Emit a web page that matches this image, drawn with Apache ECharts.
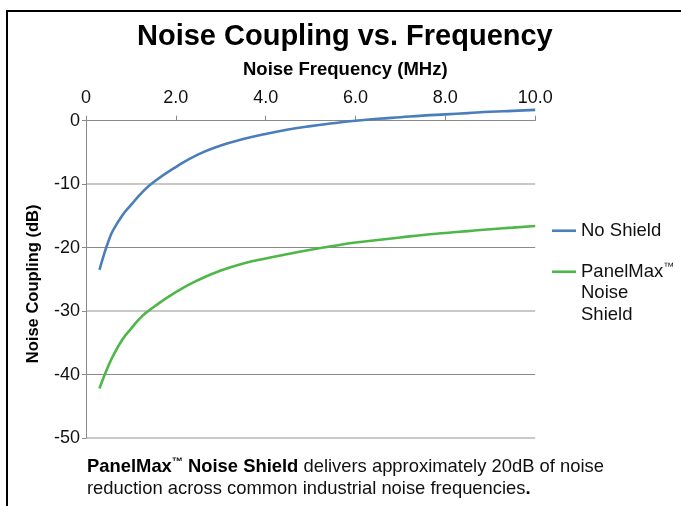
<!DOCTYPE html>
<html>
<head>
<meta charset="utf-8">
<script src="https://cdn.jsdelivr.net/npm/echarts@6/dist/echarts.min.js"></script>
<style>
html,body{margin:0;padding:0;background:#fff;}
#chart{width:681px;height:506px;}
</style>
</head>
<body>
<div id="chart"></div>
<script>
// ---- data ----
var freqMHz = [0.3, 0.4, 0.5, 0.6, 0.8, 1.0, 1.25, 1.5, 2.0, 2.5, 3.0, 3.5, 4.0, 4.5, 5.0, 5.5, 6.0, 6.5, 7.0, 7.5, 8.0, 8.5, 9.0, 9.5, 10.0];
var noShield = [-23.5, -21.1, -19.0, -17.3, -15.0, -13.3, -11.3, -9.7, -7.3, -5.3, -3.9, -2.9, -2.1, -1.4, -0.85, -0.4, 0.0, 0.3, 0.55, 0.8, 1.0, 1.2, 1.4, 1.55, 1.7];
var panelMax = [-42.2, -40.3, -38.6, -37.1, -34.6, -32.8, -30.8, -29.4, -27.0, -25.1, -23.6, -22.5, -21.7, -21.0, -20.35, -19.75, -19.2, -18.8, -18.4, -18.0, -17.7, -17.4, -17.1, -16.85, -16.6];
var seriesNames = ['No Shield', 'PanelMax\u2122 Noise Shield'];
var xTickValues = [0, 2, 4, 6, 8, 10];
var xTickLabels = ['0', '2.0', '4.0', '6.0', '8.0', '10.0'];
var yTickValues = [0, -10, -20, -30, -40, -50];
var yTickLabels = ['0', '-10', '-20', '-30', '-40', '-50'];

function pairs(xs, ys) { return xs.map(function (x, i) { return [x, ys[i]]; }); }
function lookup(vals, labels) {
  return function (v) {
    for (var i = 0; i < vals.length; i++) { if (Math.abs(vals[i] - v) < 1e-6) return labels[i]; }
    return '';
  };
}

var FONT = 'Liberation Sans, Arial, Helvetica, sans-serif';
var chart = echarts.init(document.getElementById('chart'), null, {renderer: 'canvas'});

var option = {
  backgroundColor: '#ffffff',
  animation: false,
  textStyle: {fontFamily: FONT},
  title: [{
    text: 'Noise Coupling vs. Frequency',
    left: 132,
    top: 17,
    textStyle: {fontFamily: FONT, fontSize: 29, fontWeight: 'bold', color: '#000'}
  }, {
    text: 'Noise Frequency (MHz)',
    left: 238,
    top: 55,
    textStyle: {fontFamily: FONT, fontSize: 18.5, fontWeight: 'bold', color: '#000'}
  }],
  grid: {left: 86, top: 120.7, width: 449.2, height: 317.3, containLabel: false},
  legend: [{
    orient: 'vertical',
    left: 547,
    top: 213,
    icon: 'rect',
    itemWidth: 24,
    itemHeight: 2.6,
    itemGap: -23.5,
    data: [{name: seriesNames[0]}, {name: seriesNames[1]}],
    formatter: function (n) { return n === seriesNames[1] ? '\n\nPanelMax{tm|\u2122}\nNoise\nShield' : n; },
    textStyle: {
      fontFamily: FONT, fontSize: 18.5, color: '#111', lineHeight: 21.5,
      rich: {tm: {fontFamily: FONT, fontSize: 11, color: '#111', lineHeight: 21.5, verticalAlign: 'top'}}
    }
  }],
  xAxis: {
    type: 'value',
    position: 'top',
    min: 0, max: 10, interval: 2,
    axisLine: {show: true, onZero: false, lineStyle: {color: '#8a8a8a', width: 1}},
    axisTick: {show: true, length: 5, lineStyle: {color: '#8a8a8a'}},
    axisLabel: {margin: 14, fontFamily: FONT, fontSize: 18, color: '#111', formatter: lookup(xTickValues, xTickLabels)},
    splitLine: {show: false}
  },
  yAxis: [{
    type: 'value',
    min: -50, max: 0, interval: 10,
    name: 'Noise Coupling (dB)',
    nameLocation: 'middle',
    nameRotate: 90,
    nameGap: 44,
    nameTextStyle: {fontFamily: FONT, fontSize: 16.5, fontWeight: 'bold', color: '#000', padding: [0, 9, 0, 0]},
    axisLine: {show: true, onZero: false, lineStyle: {color: '#8a8a8a', width: 1}},
    axisTick: {show: true, length: 4, lineStyle: {color: '#8a8a8a'}},
    axisLabel: {margin: 6, fontFamily: FONT, fontSize: 18, color: '#111', formatter: lookup(yTickValues, yTickLabels)},
    splitLine: {show: true, lineStyle: {color: ['#c9c9c9', 'rgba(0,0,0,0)'], width: 2}}
  }, {
    type: 'value',
    position: 'left',
    min: -50, max: 0, interval: 10,
    axisLine: {show: false},
    axisTick: {show: false},
    axisLabel: {show: false},
    splitLine: {show: true, lineStyle: {color: ['rgba(0,0,0,0)', '#8a8a8a'], width: 1}}
  }],
  series: [{
    name: seriesNames[0],
    type: 'line',
    yAxisIndex: 0,
    data: pairs(freqMHz, noShield),
    smooth: 0.5,
    clip: false,
    symbol: 'none',
    lineStyle: {color: '#4a7ebb', width: 2.6},
    itemStyle: {color: '#4a7ebb'},
    z: 3
  }, {
    name: seriesNames[1],
    type: 'line',
    yAxisIndex: 0,
    data: pairs(freqMHz, panelMax),
    smooth: 0.5,
    clip: false,
    symbol: 'none',
    lineStyle: {color: '#4eb748', width: 2.6},
    itemStyle: {color: '#4eb748'},
    z: 3
  }],
  graphic: [{
    type: 'polyline',
    shape: {points: [[7, 506], [7, 11], [681, 11]]},
    style: {stroke: '#000', lineWidth: 2, fill: null},
    silent: true
  }, {
    type: 'text',
    left: 87,
    top: 456,
    style: {
      text: '{b|PanelMax}{tm|\u2122}{b| Noise Shield} delivers approximately 20dB of noise\nreduction across common industrial noise frequencies{b|.}',
      fontFamily: FONT,
      fontSize: 18.4,
      lineHeight: 22,
      fill: '#111',
      rich: {
        b: {fontFamily: FONT, fontSize: 18.4, fontWeight: 'bold', fill: '#000', lineHeight: 22},
        tm: {fontFamily: FONT, fontSize: 11, fontWeight: 'bold', fill: '#000', lineHeight: 22, verticalAlign: 'top'}
      }
    }
  }]
};
chart.setOption(option);
</script>
</body>
</html>
